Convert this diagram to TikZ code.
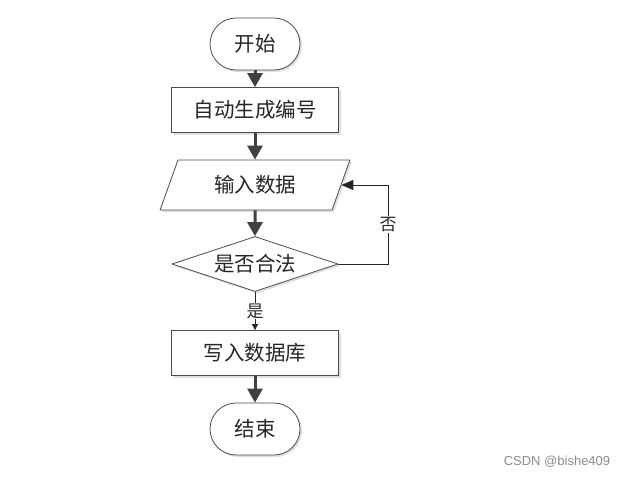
\documentclass[tikz,border=0pt]{standalone}
\usepackage{fontspec}
\newfontfamily\cjk{Noto Sans CJK SC}
\setsansfont{Liberation Sans}
\usetikzlibrary{shapes.geometric, arrows.meta, shadows}
\tikzset{>=Triangle}
\tikzset{
  base/.style={draw=black!70, fill=white, line width=0.8pt, inner sep=0pt,
    font=\cjk\fontsize{20.5}{20.5}\selectfont, text=black!85,
    drop shadow={shadow xshift=2pt, shadow yshift=-2pt, fill=black!12, opacity=1}},
  terminal/.style={base, rectangle, rounded corners=26pt, minimum width=90pt, minimum height=52pt},
  process/.style={base, rectangle, minimum width=167pt, minimum height=45pt},
  io/.style={base, trapezium, trapezium left angle=63.4, trapezium right angle=116.6,
    trapezium stretches, minimum width=190pt, minimum height=50pt},
  decision/.style={base, diamond, aspect=3, minimum width=166pt, minimum height=55pt},
  flow/.style={draw=black!75, line width=3pt, -{Triangle[length=14pt,width=15pt]}},
  thinline/.style={draw=black!85, line width=0.8pt},
  answer/.style={fill=white, inner sep=1pt, font=\cjk\fontsize{17}{17}\selectfont, text=black!85},
}

\begin{document}
\begin{tikzpicture}[x=1pt, y=-1pt]
    \useasboundingbox (0,0) rectangle (627,477);
    % steps
    \node[terminal] (start) at (255,44) {开始};
    \node[process] (number) at (255,110) {自动生成编号};
    \node[io] (input) at (255,185) {输入数据};
    \node[decision] (check) at (255,264) {是否合法};
    \node[process] (save) at (255,353) {写入数据库};
    \node[terminal] (stop) at (255,429) {结束};
    \coordinate (bend) at (388,185);
    % connectors
    \draw[flow] (start) -- (number);
    \draw[flow] (number) -- (input);
    \draw[flow] (input) -- (check);
    \draw[thinline, -{Triangle[length=6pt,width=6pt]}] (check) -- node[answer] {是} (save);
    \draw[thinline, -{Triangle[length=12pt,width=10pt]}] (check.east) -| node[answer, pos=0.75] {否} (bend) -- (input.east);
    \draw[flow] (save) -- (stop);
    % watermark
    \node[font=\sffamily\fontsize{13}{13}\selectfont, text=black!45] (mark) at (557,462) {CSDN @bishe409};
\end{tikzpicture}
\end{document}
